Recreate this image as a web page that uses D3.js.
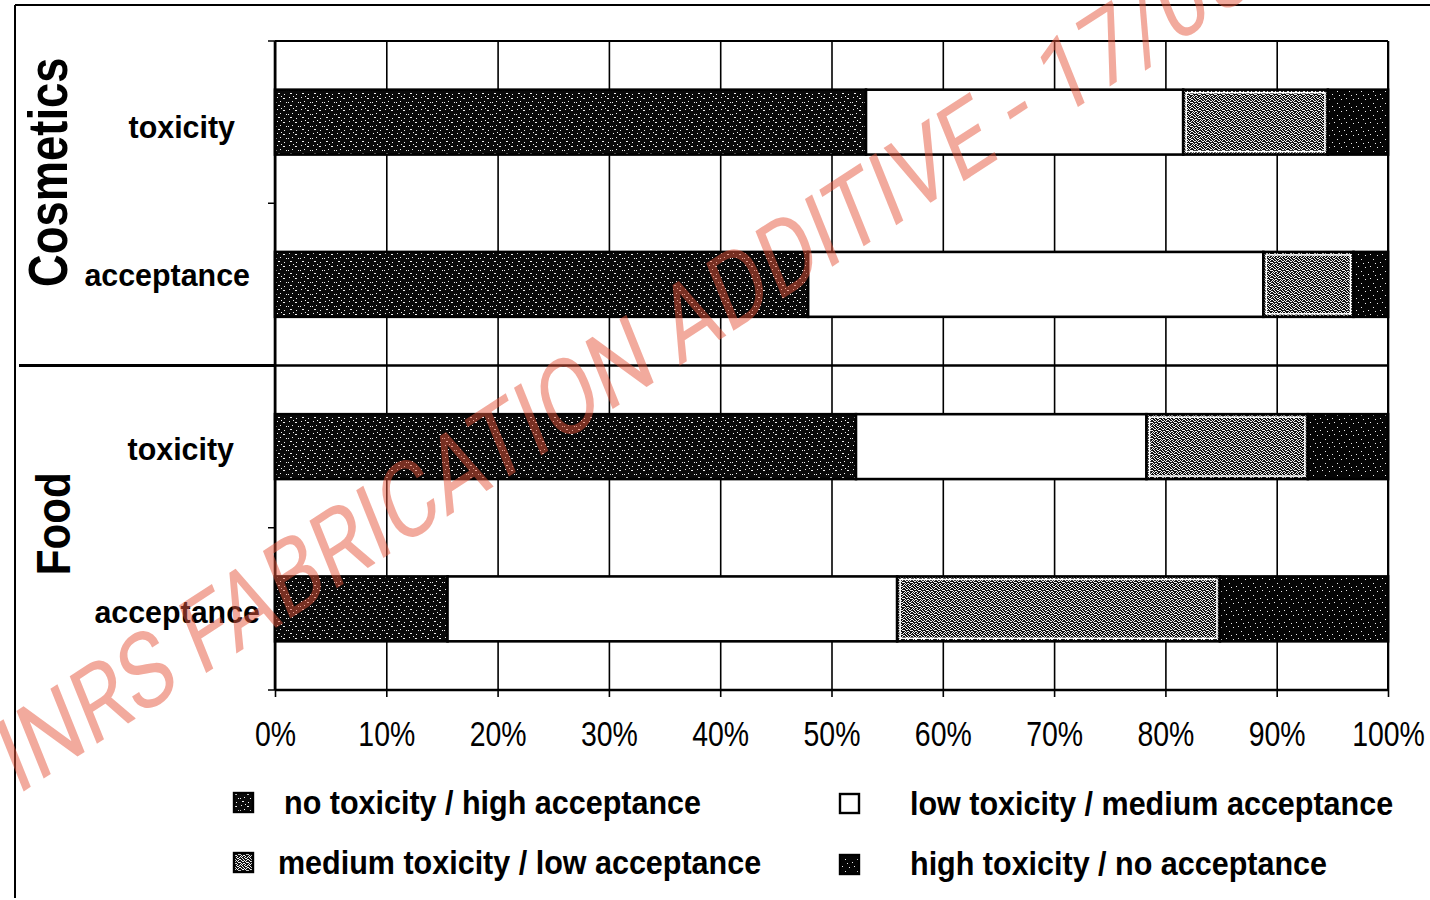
<!DOCTYPE html>
<html><head><meta charset="utf-8">
<script src="https://cdn.jsdelivr.net/npm/d3@7"></script>
<style>html,body{margin:0;padding:0;background:#fff;overflow:hidden}svg{display:block}</style>
</head><body>
<svg id="chart" width="1430" height="900"></svg>
<script>
// ---------------- data ----------------
const categories = ["Cosmetics toxicity", "Cosmetics acceptance", "Food toxicity", "Food acceptance"];
const categoryLabels = ["toxicity", "acceptance", "toxicity", "acceptance"];
const groupNames = ["Cosmetics", "Food"];
const seriesNames = ["no toxicity / high acceptance", "low toxicity / medium acceptance",
                     "medium toxicity / low acceptance", "high toxicity / no acceptance"];
const noToxHighAcc  = [53.1, 47.9, 52.2, 15.5];
const lowToxMedAcc  = [28.5, 40.9, 26.1, 40.4];
const medToxLowAcc  = [13.0,  8.1, 14.5, 29.0];
const highToxNoAcc  = [ 5.4,  3.1,  7.2, 15.1];
const xTickValues = [0, 10, 20, 30, 40, 50, 60, 70, 80, 90, 100];
const xTickLabels = ["0%", "10%", "20%", "30%", "40%", "50%", "60%", "70%", "80%", "90%", "100%"];
const watermarkText = "INRS FABRICATION ADDITIVE - 17/05/";

// ---------------- layout ----------------
const svg = d3.select("#chart");
const W = 1430, H = 900;
const plot = {left: 275, right: 1388, top: 41, bottom: 690};
const FONT = "'Liberation Sans', Arial, Helvetica, sans-serif";

const x = d3.scaleLinear().domain([0, 100]).range([plot.left, plot.right]);
const y = d3.scaleBand().domain(categories).range([plot.top, plot.bottom])
  .paddingInner(0.6).paddingOuter(0.3);

// ---------------- patterns ----------------
const defs = svg.append("defs");
function speckPattern(id, size, base, specks, speckColor) {
  const p = defs.append("pattern").attr("id", id).attr("patternUnits", "userSpaceOnUse")
    .attr("width", size).attr("height", size);
  p.append("rect").attr("width", size).attr("height", size).attr("fill", base);
  specks.forEach(s => p.append("rect").attr("x", s[0]).attr("y", s[1])
    .attr("width", s[2] || 1).attr("height", 1).attr("fill", speckColor));
}
speckPattern("patDark", 12, "#0a0a0a",
  [[1,1],[7,2,2],[4,5],[10,6],[2,9,2],[8,10],[5,0],[0,6]], "#f4f4f4");
speckPattern("patHigh", 12, "#050505",
  [[2,2],[9,3],[5,7],[0,10],[7,11]], "#eeeeee");
(function () {
  const rowsBits = ["10100100", "01001001", "00100110", "10010001",
                    "01001010", "00110100", "10000011", "01011000"];
  const sp = [];
  rowsBits.forEach((r, j) => r.split("").forEach((b, i) => { if (b === "1") sp.push([i, j]); }));
  speckPattern("patMed", 8, "#121212", sp, "#f2f2f2");
})();
const fills = ["url(#patDark)", "#ffffff", "url(#patMed)", "url(#patHigh)"];

// ---------------- helpers ----------------
function sText(parent, str, px, py, o) {
  return parent.append("text")
    .attr("transform", `translate(${px},${py}) rotate(${o.rot || 0}) scale(${o.sx || 1},1)`)
    .attr("text-anchor", o.anchor || "start")
    .attr("font-family", FONT)
    .attr("font-weight", o.weight || "normal")
    .attr("font-size", o.size)
    .attr("fill", "#000")
    .text(str);
}

// ---------------- outer frame ----------------
svg.append("line").attr("x1", 15).attr("x2", W).attr("y1", 5).attr("y2", 5)
  .attr("stroke", "#000").attr("stroke-width", 2);
svg.append("line").attr("x1", 15).attr("x2", 15).attr("y1", 5).attr("y2", 898)
  .attr("stroke", "#000").attr("stroke-width", 2);

// ---------------- grid ----------------
const gGrid = svg.append("g").attr("transform", `translate(0,${plot.bottom})`)
  .call(d3.axisBottom(x).tickValues(xTickValues).tickSize(-(plot.bottom - plot.top)).tickFormat(""));
gGrid.select(".domain").remove();
gGrid.selectAll(".tick line").attr("stroke", "#000").attr("stroke-width", 1.6);

const step = y.step(), pin = y.paddingInner();
const boundaries = [plot.top].concat(categories.map(c => y(c) + y.bandwidth() + step * pin / 2));
boundaries[boundaries.length - 1] = plot.bottom;
const groupSep = boundaries[2];
[plot.top, groupSep, plot.bottom].forEach((yy, i) => {
  svg.append("line").attr("x1", plot.left).attr("x2", plot.right).attr("y1", yy).attr("y2", yy)
    .attr("stroke", "#000").attr("stroke-width", i === 0 ? 2 : 2.6);
});
svg.append("line").attr("x1", 19).attr("x2", plot.left).attr("y1", groupSep).attr("y2", groupSep)
  .attr("stroke", "#000").attr("stroke-width", 3);

// ---------------- bars ----------------
const seriesArrays = [noToxHighAcc, lowToxMedAcc, medToxLowAcc, highToxNoAcc];
const table = categories.map((c, i) => {
  const row = {cat: c};
  seriesNames.forEach((s, k) => row[s] = seriesArrays[k][i]);
  return row;
});
const stacked = d3.stack().keys(seriesNames)(table);
const gBars = svg.append("g");
stacked.forEach((layer, k) => {
  gBars.selectAll(null).data(layer).enter().append("rect")
    .attr("x", d => x(d[0]))
    .attr("y", d => y(d.data.cat))
    .attr("width", d => x(d[1]) - x(d[0]))
    .attr("height", y.bandwidth())
    .attr("fill", fills[k])
    .attr("stroke", "#000")
    .attr("stroke-width", 2.6);
  if (k === 2) {
    // thin white inner frame seen around the grey hatched segments
    gBars.selectAll(null).data(layer).enter().append("rect")
      .attr("x", d => x(d[0]) + 3)
      .attr("y", d => y(d.data.cat) + 3)
      .attr("width", d => Math.max(0, x(d[1]) - x(d[0]) - 6))
      .attr("height", y.bandwidth() - 6)
      .attr("fill", "none")
      .attr("stroke", "#ffffff")
      .attr("stroke-width", 1.5);
  }
});

// ---------------- axes ----------------
svg.append("line").attr("x1", plot.left).attr("x2", plot.left).attr("y1", plot.top).attr("y2", plot.bottom)
  .attr("stroke", "#000").attr("stroke-width", 2.6);
boundaries.forEach(b => svg.append("line").attr("x1", plot.left - 7).attr("x2", plot.left)
  .attr("y1", b).attr("y2", b).attr("stroke", "#000").attr("stroke-width", 1.5));
svg.append("line").attr("x1", plot.right).attr("x2", plot.right).attr("y1", plot.top).attr("y2", plot.bottom)
  .attr("stroke", "#000").attr("stroke-width", 2);

const gX = svg.append("g").attr("transform", `translate(0,${plot.bottom})`)
  .call(d3.axisBottom(x).tickValues(xTickValues).tickSize(7).tickPadding(0)
        .tickFormat((d, i) => xTickLabels[i]));
gX.select(".domain").remove();
gX.selectAll(".tick line").attr("stroke", "#000").attr("stroke-width", 1.6);
gX.selectAll(".tick text")
  .attr("y", 56).attr("dy", null)
  .attr("font-family", FONT).attr("font-size", 36).attr("fill", "#000")
  .attr("transform", "scale(0.79,1)");

// ---------------- category labels ----------------
const labelRight = [235, 250, 234, 260];
const labelDy = [16, 2, 13, 14];
categories.forEach((c, i) => {
  sText(svg, categoryLabels[i], labelRight[i], y(c) + y.bandwidth() / 2 + labelDy[i],
    {anchor: "end", weight: "bold", size: 32, sx: 0.95});
});

const groupCenters = [(plot.top + groupSep) / 2, (groupSep + plot.bottom) / 2];
sText(svg, groupNames[0], 67, groupCenters[0] - 31, {anchor: "middle", weight: "bold", size: 56, sx: 0.81, rot: -90});
sText(svg, groupNames[1], 70, groupCenters[1] - 4, {anchor: "middle", weight: "bold", size: 49, sx: 0.86, rot: -90});

// ---------------- legend ----------------
const legendPos = [
  {sx: 234, sy: 793, tx: 284, ty: 814},
  {sx: 840, sy: 794, tx: 910, ty: 815},
  {sx: 234, sy: 853, tx: 278, ty: 874},
  {sx: 840, sy: 855, tx: 910, ty: 875}
];
seriesNames.forEach((s, k) => {
  const p = legendPos[k];
  svg.append("rect").attr("x", p.sx).attr("y", p.sy).attr("width", 19).attr("height", 19)
    .attr("fill", fills[k]).attr("stroke", "#000").attr("stroke-width", 2.4);
  sText(svg, s, p.tx, p.ty, {weight: "bold", size: 33, sx: 0.925});
});

// ---------------- watermark ----------------
const wm = svg.append("text").text(watermarkText)
  .attr("font-family", "Roboto, 'Open Sans', sans-serif")
  .attr("font-weight", 400)
  .attr("font-size", 100)
  .attr("fill", "rgb(230,85,60)")
  .attr("fill-opacity", 0.5);
(function () {
  const node = wm.node();
  const p5 = node.getStartPositionOfChar(5).x;    // "F"
  const p28 = node.getStartPositionOfChar(28).x;  // "1"
  // anchors on the page: F foot and "1" foot; page is stretched vertically vs text
  const F = [200, 677], One = [1058, 120], stretch = 1.27;
  const dx = One[0] - F[0], dy = (One[1] - F[1]) / stretch;
  const ang = Math.atan2(dy, dx) * 180 / Math.PI;
  const k = Math.hypot(dx, dy) / (p28 - p5);
  wm.attr("transform",
    `translate(${F[0]},${F[1]}) scale(1,${stretch}) rotate(${ang}) scale(${k}) translate(${-p5},0)`);
})();
</script>
</body></html>
